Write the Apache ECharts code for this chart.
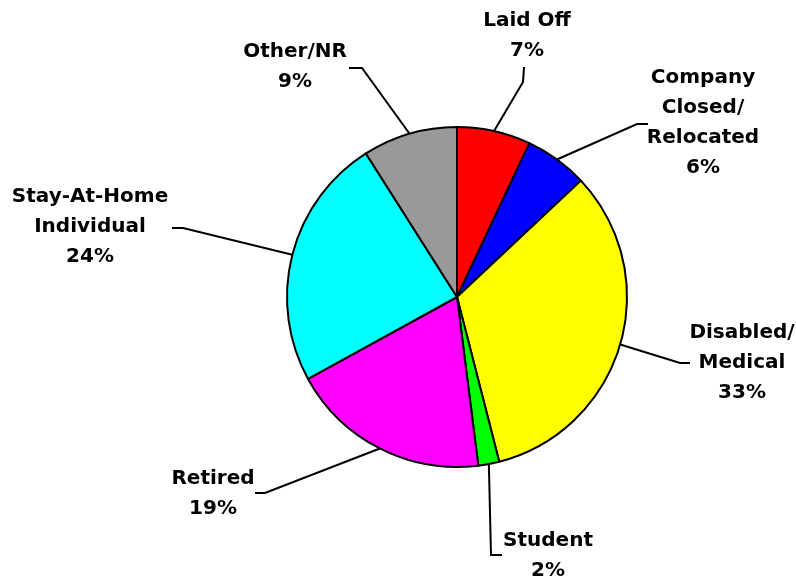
<!DOCTYPE html>
<html>
<head>
<meta charset="utf-8">
<script src="https://cdn.jsdelivr.net/npm/echarts@6/dist/echarts.min.js"></script>
<style>
  html, body { margin: 0; padding: 0; background: #fff; }
  #chart { width: 796px; height: 579px; }
</style>
</head>
<body>
<div id="chart"></div>
<script>
// 数据
const categories = ['Laid Off', 'Company\nClosed/\nRelocated', 'Disabled/\nMedical', 'Student', 'Retired', 'Stay-At-Home\nIndividual', 'Other/NR'];
const percents   = [7, 6, 33, 2, 19, 24, 9];
const colors     = ['#ff0000', '#0000ff', '#ffff00', '#00ff00', '#ff00ff', '#00ffff', '#999999'];

// label placement (center of text block) and leader line elbow/end
const labelPos = [
  { x: 527, y: 36,  elbow: [523, 82],  end: [524, 67] },
  { x: 703, y: 123, elbow: [637, 124], end: [648, 124] },
  { x: 742, y: 363, elbow: [680, 363], end: [690, 363] },
  { x: 548, y: 556, elbow: [491, 555], end: [502, 555] },
  { x: 213, y: 494, elbow: [265, 493], end: [255, 493] },
  { x: 90,  y: 227, elbow: [183, 228], end: [172, 228] },
  { x: 295, y: 67,  elbow: [362, 68],  end: [349, 68] },
];

const chart = echarts.init(document.getElementById('chart'));
chart.setOption({
  animation: false,
  series: [{
    type: 'pie',
    center: [457, 297],
    radius: 170,
    startAngle: 90,
    clockwise: true,
    avoidLabelOverlap: false,
    itemStyle: { borderColor: '#000', borderWidth: 2 },
    label: {
      show: true,
      position: 'outside',
      formatter: p => `${p.name}\n${p.value}%`,
      fontFamily: 'DejaVu Sans',
      fontWeight: 'bold',
      fontSize: 20,
      lineHeight: 30,
      color: '#000',
      align: 'center',
    },
    labelLine: { show: true, smooth: false, lineStyle: { color: '#000', width: 2 } },
    labelLayout: (params) => {
      const lp = labelPos[params.dataIndex];
      const anchor = params.labelLinePoints ? params.labelLinePoints[0] : lp.elbow;
      return {
        x: lp.x,
        y: lp.y,
        align: 'center',
        verticalAlign: 'middle',
        labelLinePoints: [anchor, lp.elbow, lp.end],
      };
    },
    emphasis: { disabled: true },
    data: categories.map((c, i) => ({ name: c, value: percents[i], itemStyle: { color: colors[i] } })),
  }],
});
</script>
</body>
</html>
